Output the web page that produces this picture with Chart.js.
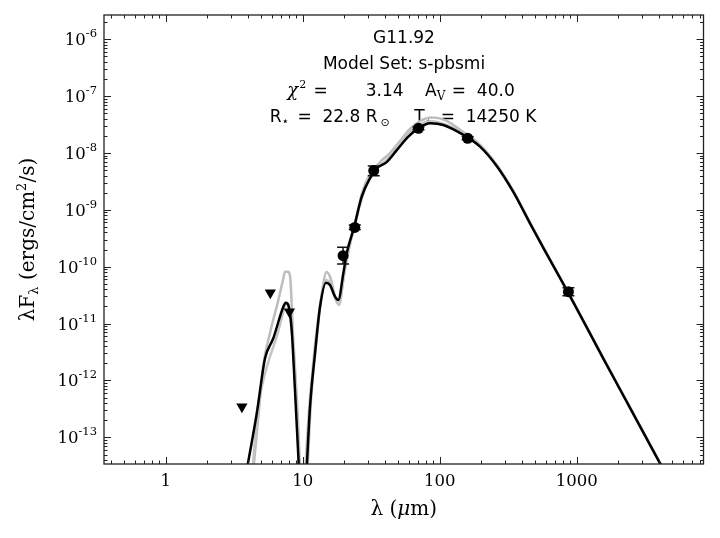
<!DOCTYPE html>
<html>
<head>
<meta charset="utf-8">
<script src="https://cdn.jsdelivr.net/npm/chart.js@4.4.0/dist/chart.umd.min.js"></script>
<style>
html,body{margin:0;padding:0;background:#fff;}
</style>
</head>
<body>
<canvas id="chart" width="720" height="538"></canvas>
<script>
// G11.92 SED: wavelength (micron) vs lambda*F_lambda (erg/cm2/s)
const obsLam=[19.7,24,33,70,160,870];
const obsFlux=[1.56e-10,4.9e-10,4.9e-9,2.7e-8,1.81e-8,3.64e-11];
const obsLo=[1.11e-10,4.5e-10,3.97e-9,2.55e-8,1.71e-8,3.09e-11];
const obsHi=[2.2e-10,5.4e-10,5.89e-9,2.85e-8,1.92e-8,4.28e-11];

const limLam=[3.6,5.8,8.0];
const limFlux=[3.47e-13,3.5e-11,1.62e-11];

// best fit model (black)
const bestLam=[3.79,4.62,5.31,6.10,7.22,7.52,7.85,8.31,8.78,9.24,9.56,10.05,10.57,11.31,12.30,13.38,14.8,15.82,17.21,18.19,19.79,20.95,23.7,26.96,30.98,34.7,41.0,48.6,59.0,69.8,85.0,106.2,148.7,197,260.6,344.5,456,570.5,860,1564,2450,4056,4411];
const bestFlux=[1.8e-14,2.65e-13,2.45e-12,5.52e-12,1.98e-11,2.33e-11,2.12e-11,7.72e-12,6.8e-13,6.0e-14,1.2e-14,3.5e-15,1.8e-14,3.47e-13,3.0e-12,1.98e-11,5.24e-11,4.77e-11,2.97e-11,2.6e-11,7.66e-11,1.72e-10,4.92e-10,1.70e-9,3.58e-9,5.36e-9,6.9e-9,1.12e-8,1.93e-8,2.70e-8,3.31e-8,3.09e-8,2.07e-8,1.29e-8,5.89e-9,2.06e-9,5.79e-10,2.14e-10,3.6e-11,2.43e-12,3.30e-13,3.5e-14,2.41e-14];

// other good fits (grey)
const greyALam=[4.36,4.72,5.16,5.77,6.64,7.18,7.43,7.81,8.08,8.54,9.13,9.64,10.22,10.75,11.50,12.51,13.60,14.92,15.95,17.50,18.41,20.02,21.1,23.9,27.1,30.98,36.7,43.4,51.3,60.7,71.8,87.9,109.3,148.7,197,260.6,344.5,456,570.5,860,1564,2450,4056,4411];
const greyAFlux=[2.67e-14,2.02e-13,1.87e-12,6.84e-12,2.6e-11,5.83e-11,8.17e-11,8.17e-11,6.87e-11,5.15e-12,3.47e-13,2.18e-14,7.9e-15,2.18e-14,4.54e-13,4.2e-12,2.6e-11,8.07e-11,6.32e-11,2.6e-11,2.21e-11,7.45e-11,1.74e-10,5.4e-10,1.97e-9,4.26e-9,6.92e-9,9.96e-9,1.62e-8,2.63e-8,3.64e-8,4.19e-8,3.78e-8,2.33e-8,1.38e-8,6.2e-9,2.16e-9,6.0e-10,2.22e-10,3.7e-11,2.5e-12,3.4e-13,3.6e-14,2.5e-14];

const greyBLam=[4.27,4.56,4.88,5.31,5.77,6.46,7.22,7.52,7.88,8.35,8.93,9.47,9.89,10.4,11.12,12.09,13.38,14.8,15.82,17.5,18.41,20.02,23.7,30.98,41.0,59.0,85.0,148.7,197,260.6,344.5,456,570.5,860,1564,2450,4056,4411];
const greyBFlux=[2.18e-14,1.35e-13,5.19e-13,1.34e-12,2.62e-12,5.89e-12,1.62e-11,2.28e-11,1.96e-11,6.3e-12,4.54e-13,2.67e-14,7.9e-15,2.67e-14,3.03e-13,2.8e-12,2.12e-11,5.83e-11,5.18e-11,2.6e-11,2.12e-11,7.15e-11,4.92e-10,3.93e-9,7.5e-9,2.24e-8,3.6e-8,2.2e-8,1.33e-8,6.05e-9,2.1e-9,5.9e-10,2.18e-10,3.65e-11,2.46e-12,3.35e-13,3.55e-14,2.45e-14];

const xTickVals=[1,10,100,1000];
const xTickText=["1","10","100","1000"];
const yTickExp=[-13,-12,-11,-10,-9,-8,-7,-6];

const serif='"DejaVu Serif", serif';
const sans='"DejaVu Sans", sans-serif';

function pts(lx,ly){
    return lx.map((v,i)=>({x:v,y:ly[i]}));
}

function runs(ctx,parts,x,y,align){
    let w=0;
    parts.forEach(p=>{ctx.font=p.f; p.w=ctx.measureText(p.t).width+(p.gap||0); w+=p.w;});
    let cx=align==="center"?x-w/2:align==="right"?x-w:x;
    ctx.textAlign="left";
    parts.forEach(p=>{ctx.font=p.f; ctx.fillText(p.t,cx,y+(p.dy||0)); cx+=p.w;});
}

const deco={
    id:"deco",
    beforeDatasetsDraw(chart){
        const ctx=chart.ctx;
        const f17="17px "+sans;
        ctx.save();
        ctx.fillStyle="#000";
        ctx.textBaseline="alphabetic";
        ctx.textAlign="center";
        ctx.font=f17;
        ctx.fillText("G11.92",404,43);
        ctx.fillText("Model Set: s-pbsmi",404,69);

        runs(ctx,[
            {t:"\u03c7",f:"italic 18px "+serif,gap:1},
            {t:"2",f:"11px "+serif,dy:-8,gap:2},
            {t:" =       3.14    A",f:f17},
            {t:"V",f:"12px "+serif,dy:4,gap:1},
            {t:" =  40.0",f:f17}
        ],401,96,"center");

        runs(ctx,[
            {t:"R",f:f17},
            {t:"\u22c6",f:"12px "+sans,dy:3,gap:3},
            {t:" =  22.8 R",f:f17,gap:3},
            {t:"\u2299",f:"11px "+sans,dy:4,gap:3},
            {t:"    T",f:f17},
            {t:"\u22c6",f:"12px "+sans,dy:3,gap:3},
            {t:" =  14250 K",f:f17}
        ],403,122,"center");
        ctx.restore();
    },
    beforeDatasetDraw(chart,args){
        if(args.index!==3) return;
        const {ctx,scales:{x,y}}=chart;
        ctx.save();
        ctx.strokeStyle="#111";
        ctx.lineWidth=1.5;
        obsLam.forEach((l,i)=>{
            const px=x.getPixelForValue(l);
            const y1=y.getPixelForValue(obsLo[i]);
            const y2=y.getPixelForValue(obsHi[i]);
            ctx.beginPath();
            ctx.moveTo(px,y1);ctx.lineTo(px,y2);
            ctx.moveTo(px-6,y1);ctx.lineTo(px+6,y1);
            ctx.moveTo(px-6,y2);ctx.lineTo(px+6,y2);
            ctx.stroke();
        });
        ctx.restore();
    },
    afterDraw(chart){
        const {ctx,chartArea:a,scales:{x,y}}=chart;
        ctx.save();
        ctx.strokeStyle="#222";
        ctx.lineWidth=1.3;
        ctx.strokeRect(a.left,a.top,a.right-a.left,a.bottom-a.top);

        ctx.lineWidth=1;
        ctx.beginPath();
        for(let d=-1;d<=4;d++){
            for(let k=1;k<10;k++){
                const v=k*Math.pow(10,d);
                if(v<x.min||v>x.max) continue;
                const px=Math.round(x.getPixelForValue(v))+0.5;
                const L=k===1?7:3.5;
                ctx.moveTo(px,a.bottom);ctx.lineTo(px,a.bottom-L);
                ctx.moveTo(px,a.top);ctx.lineTo(px,a.top+L);
            }
        }
        for(let d=-14;d<=-6;d++){
            for(let k=1;k<10;k++){
                const v=k*Math.pow(10,d);
                if(v<y.min||v>y.max) continue;
                const py=Math.round(y.getPixelForValue(v))+0.5;
                const L=k===1?7:3.5;
                ctx.moveTo(a.left,py);ctx.lineTo(a.left+L,py);
                ctx.moveTo(a.right,py);ctx.lineTo(a.right-L,py);
            }
        }
        ctx.stroke();

        ctx.fillStyle="#000";
        ctx.textBaseline="alphabetic";
        ctx.textAlign="center";
        ctx.font="16.5px "+serif;
        xTickVals.forEach((v,i)=>{
            ctx.fillText(xTickText[i],x.getPixelForValue(v),486);
        });
        yTickExp.forEach(e=>{
            const py=y.getPixelForValue(Math.pow(10,e));
            runs(ctx,[{t:"10",f:"16.5px "+serif},{t:"-"+(-e),f:"11.5px "+serif,dy:-8}],97,py+6,"right");
        });

        // axis titles
        runs(ctx,[{t:"\u03bb (",f:"20px "+serif},{t:"\u03bc",f:"italic 20px "+serif},{t:"m)",f:"20px "+serif}],(a.left+a.right)/2,515,"center");

        ctx.translate(34,(a.top+a.bottom)/2);
        ctx.rotate(-Math.PI/2);
        runs(ctx,[
            {t:"\u03bbF",f:"20px "+serif},
            {t:"\u03bb",f:"13px "+serif,dy:4},
            {t:" (ergs/cm",f:"20px "+serif},
            {t:"2",f:"13px "+serif,dy:-8},
            {t:"/s)",f:"20px "+serif}
        ],0,0,"center");
        ctx.restore();
    }
};

const chart=new Chart(document.getElementById("chart"),{
    type:"line",
    data:{
        datasets:[
            {
                data:pts(greyALam,greyAFlux),
                borderColor:"#bdbdbd",
                borderWidth:2.5,
                pointRadius:0,
                order:3,
                cubicInterpolationMode:"monotone"
            },
            {
                data:pts(greyBLam,greyBFlux),
                borderColor:"#c4c4c4",
                borderWidth:2.5,
                pointRadius:0,
                order:2,
                cubicInterpolationMode:"monotone"
            },
            {
                data:pts(bestLam,bestFlux),
                borderColor:"#000",
                borderWidth:2.5,
                pointRadius:0,
                order:1,
                cubicInterpolationMode:"monotone"
            },
            {
                data:pts(obsLam,obsFlux),
                showLine:false,
                pointRadius:5.5,
                pointBackgroundColor:"#000",
                pointBorderColor:"#000",
                pointBorderWidth:0,
                order:0
            },
            {
                data:pts(limLam,limFlux),
                showLine:false,
                pointStyle:"triangle",
                rotation:180,
                pointRadius:6.5,
                pointBackgroundColor:"#000",
                pointBorderColor:"#000",
                pointBorderWidth:0,
                order:0
            }
        ]
    },
    options:{
        responsive:false,
        animation:false,
        devicePixelRatio:1,
        layout:{padding:{top:15,right:16.5,left:0,bottom:0}},
        plugins:{legend:{display:false},tooltip:{enabled:false}},
        scales:{
            x:{
                type:"logarithmic",
                min:0.3544,
                max:8425,
                grid:{display:false},
                border:{display:false},
                ticks:{display:false},
                afterFit:s=>{s.height=74;}
            },
            y:{
                type:"logarithmic",
                min:3.407e-14,
                max:2.652e-6,
                grid:{display:false},
                border:{display:false},
                ticks:{display:false},
                afterFit:s=>{s.width=104;}
            }
        }
    },
    plugins:[deco]
});
</script>
</body>
</html>
